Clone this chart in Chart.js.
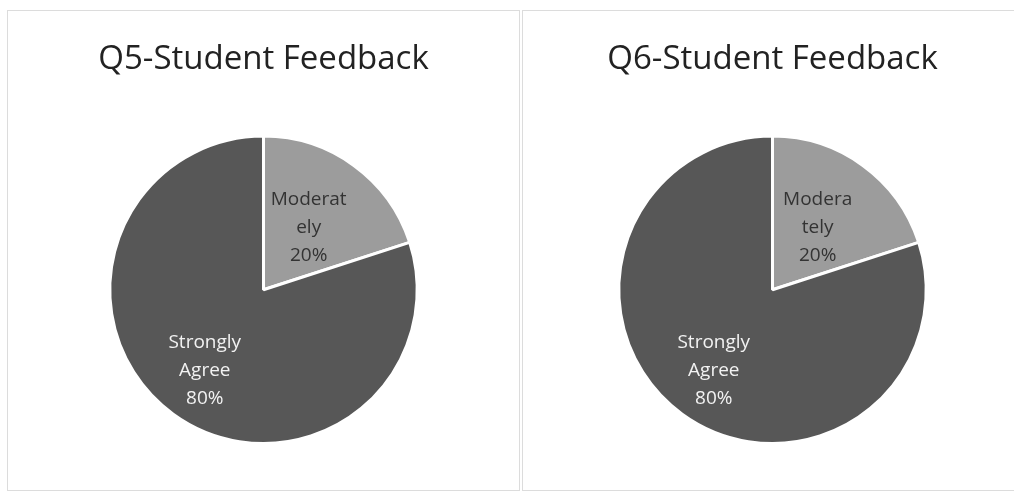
<!DOCTYPE html>
<html>
<head>
<meta charset="utf-8">
<script src="https://cdn.jsdelivr.net/npm/chart.js@4.4.1/dist/chart.umd.min.js"></script>
<style>
  html, body { margin: 0; padding: 0; background: #fff; }
  body { width: 1014px; height: 495px; position: relative; overflow: hidden; }
  .panel { position: absolute; top: 10px; height: 481px; border: 1px solid #dcdcdc; box-sizing: border-box; }
  #p1 { left: 7px; width: 513px; }
  #p2 { left: 522px; width: 492px; border-right: none; }
</style>
</head>
<body>
<div class="panel" id="p1"><canvas id="q5"></canvas></div>
<div class="panel" id="p2"><canvas id="q6"></canvas></div>
<script>
// Data
const categories = ['Moderately', 'Strongly Agree'];
const q5Values = [20, 80];
const q6Values = [20, 80];
// wrapped label text as shown in each chart
const q5LabelLines = [['Moderat', 'ely'], ['Strongly', 'Agree']];
const q6LabelLines = [['Modera', 'tely'], ['Strongly', 'Agree']];

const COLORS = {
  light: '#9c9c9c',
  dark: '#575757',
  darkText: '#333333',
  lightText: '#f2f2f2',
  title: '#222222',
};

// Draws the data labels inside the slices (name lines + percent)
const sliceLabels = {
  id: 'sliceLabels',
  afterDatasetsDraw(chart, args, opts) {
    const { ctx } = chart;
    const meta = chart.getDatasetMeta(0);
    const data = chart.data.datasets[0].data;
    const total = data.reduce((a, b) => a + b, 0);
    meta.data.forEach((arc, i) => {
      const p = arc.getProps(['x', 'y', 'startAngle', 'endAngle', 'outerRadius'], true);
      const mid = (p.startAngle + p.endAngle) / 2;
      const r = p.outerRadius * opts.radial[i];
      const cx = p.x + Math.cos(mid) * r;
      const cy = p.y + Math.sin(mid) * r;
      const lines = [...opts.lines[i], Math.round(data[i] / total * 100) + '%'];
      ctx.save();
      ctx.font = opts.font;
      ctx.fillStyle = opts.colors[i];
      ctx.textAlign = 'center';
      ctx.textBaseline = 'middle';
      const lh = opts.lineHeight;
      lines.forEach((t, k) => {
        ctx.fillText(t, cx, cy + (k - (lines.length - 1) / 2) * lh);
      });
      ctx.restore();
    });
  },
};

function feedbackPie(canvasId, title, values, lines, padLeft) {
  const ctx = document.getElementById(canvasId).getContext('2d');
  return new Chart(ctx, {
    type: 'pie',
    data: {
      labels: categories,
      datasets: [{
        data: values,
        backgroundColor: [COLORS.light, COLORS.dark],
        borderColor: '#ffffff',
        borderWidth: 3,
      }],
    },
    options: {
      responsive: true,
      maintainAspectRatio: false,
      animation: false,
      layout: { padding: { left: padLeft, right: 0, top: 0, bottom: 45 } },
      plugins: {
        legend: { display: false },
        tooltip: { enabled: false },
        title: {
          display: true,
          text: title,
          color: COLORS.title,
          font: { family: "'Open Sans', sans-serif", size: 33, weight: 'normal' },
          padding: { top: 29, bottom: 55 },
        },
        sliceLabels: {
          lines,
          radial: [0.5, 0.65],
          colors: [COLORS.darkText, COLORS.lightText],
          font: "19px 'Open Sans', sans-serif",
          lineHeight: 28,
        },
      },
    },
    plugins: [sliceLabels],
  });
}

feedbackPie('q5', 'Q5-Student Feedback', q5Values, q5LabelLines, 0);
feedbackPie('q6', 'Q6-Student Feedback', q6Values, q6LabelLines, 8);
</script>
</body>
</html>
